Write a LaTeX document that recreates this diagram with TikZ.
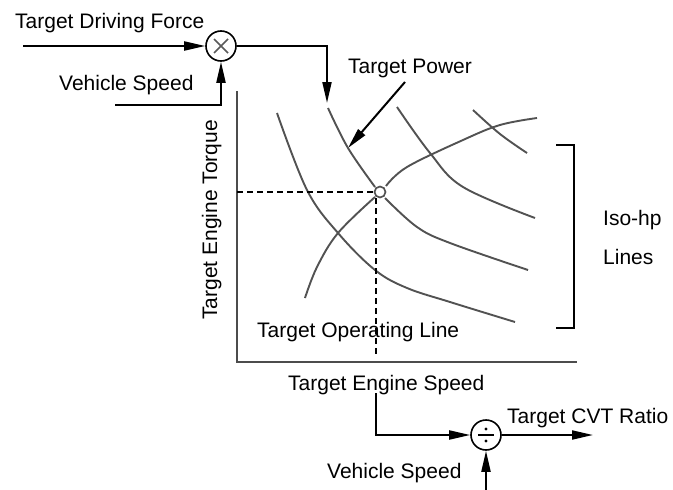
\documentclass[tikz,border=0pt]{standalone}
\usepackage{fontspec}
\setmainfont{Liberation Sans}
\usetikzlibrary{arrows.meta,calc}
\begin{document}
\begin{tikzpicture}[x=1pt,y=-1pt,
  lbl/.style={anchor=base west,inner sep=0pt,font=\fontsize{21}{24}\selectfont},
  sig/.style={line width=2pt,-{Triangle[length=21pt,width=9pt]}},
  opnode/.style={circle,draw,line width=1.6pt,minimum size=30pt,inner sep=0pt},
  curve/.style={line width=1.9pt,color=black!68},
  axis/.style={line width=2.2pt,color=black!70},
  guide/.style={line width=1.5pt,dash pattern=on 6pt off 4pt}]
\useasboundingbox (0,0) rectangle (673,490);

% labels
\node[lbl] (tdf) at (15,28) {Target Driving Force};
\node[lbl] (vs1) at (59,90) {Vehicle Speed};
\node[lbl] (tp) at (348,73) {Target Power};
\node[lbl] (tes) at (288,390) {Target Engine Speed};
\node[lbl] (tcvt) at (507,423) {Target CVT Ratio};
\node[lbl] (vs2) at (327,478) {Vehicle Speed};
\node[lbl] (tol) at (257,337) {Target Operating Line};
\node[lbl] (iso) at (603,225) {Iso-hp};
\node[lbl] (lines) at (603,264) {Lines};
\node[lbl,rotate=90] (tet) at (217,320) {Target Engine Torque};

% operator nodes
\node[opnode] (mul) at (221,46) {};
\draw[line width=1.6pt,black!65] ($(mul)+(-7,-7)$) -- ($(mul)+(7,7)$)
  ($(mul)+(-7,7)$) -- ($(mul)+(7,-7)$);
\node[opnode] (div) at (486,435) {};
\draw[line width=1.8pt] ($(div)+(-8,0)$) -- ($(div)+(8,0)$);
\fill ($(div)+(0,-6)$) circle (1.6pt) ($(div)+(0,6)$) circle (1.6pt);

% coordinates
\coordinate (in1) at (23,46);
\coordinate (in2) at (115,105);
\coordinate (c2top) at (327,103);
\coordinate (tpa) at (405,82);
\coordinate (tpb) at (348,148);
\coordinate (tesb) at (376,393);
\coordinate (out) at (593,435);
\coordinate (in3) at (486,490);
\coordinate (origin) at (237,362);
\coordinate (ytop) at (237,91);
\coordinate (xend) at (577,362);

% signal wires
\draw[sig] (in1) -- (mul.west);
\draw[sig] (in2) -| (mul.south);
\draw[sig] (mul.east) -| (c2top);
\draw[sig] (tpa) -- (tpb);
\draw[sig] (tesb) |- (div.west);
\draw[sig] (div.east) -- (out);
\draw[sig] (in3) -- (div.south);

% axes
\draw[axis] (ytop) -- (origin) -- (xend);

% iso-hp curves
\draw[curve] plot[smooth,tension=0.6] coordinates {(277,113) (307,190) (338,233) (375,270) (407,288) (450,302) (515,322)};
\draw[curve] plot[smooth,tension=0.6] coordinates {(328,108) (348,148) (375,187)};
\draw[curve] plot[smooth,tension=0.6] coordinates {(385,198) (417,227) (450,243) (528,270)};
\draw[curve] plot[smooth,tension=0.6] coordinates {(397,107) (430,153) (463,187) (535,218)};
\draw[curve] plot[smooth,tension=0.6] coordinates {(473,110) (500,134) (527,153)};
% operating line
\draw[curve] plot[smooth,tension=0.6] coordinates {(305,298) (317,267) (338,233) (375,197)};
\draw[curve] plot[smooth,tension=0.6] coordinates {(386,186) (407,167) (463,140) (500,125) (537,118)};
\node[circle,draw=black!68,line width=1.7pt,minimum size=11pt,inner sep=0pt] (op) at (380,192) {};

% guides
\draw[guide] (origin |- op.west) -- (op.west);
\draw[guide] (376,198) -- (376,356);

% bracket
\coordinate (bt) at (556,145);
\coordinate (bb) at (556,328);
\draw[line width=1.8pt] (bt) -- ++(18,0) |- (bb);
\end{tikzpicture}
\end{document}
